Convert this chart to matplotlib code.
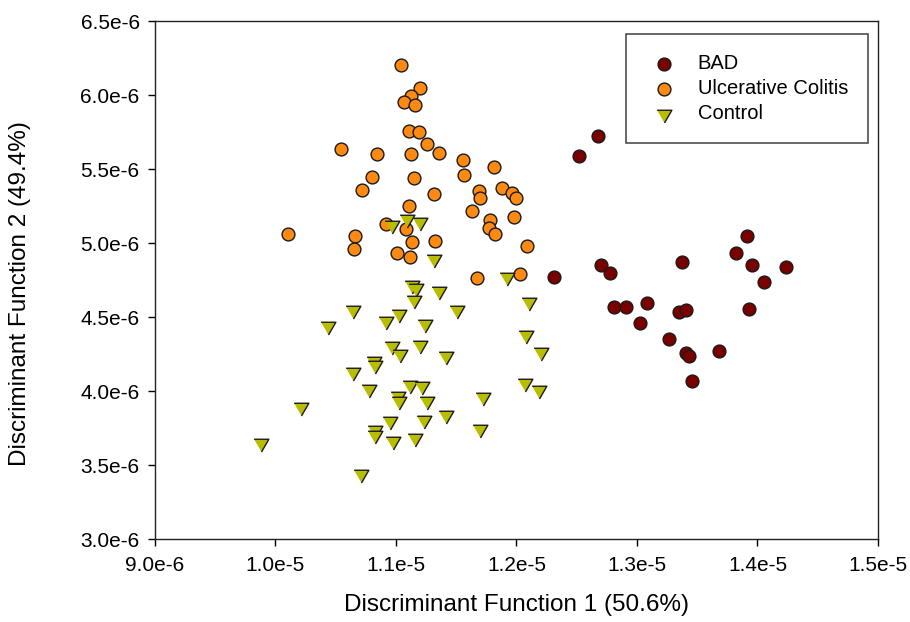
import matplotlib
matplotlib.use("Agg")
import matplotlib.pyplot as plt
from matplotlib.ticker import FixedLocator

plt.rcParams['font.family'] = ['Liberation Sans', 'DejaVu Sans']

# Discriminant scores (units of 1e-6)
bad_x = [12.674, 12.519, 12.311, 12.704, 12.778, 12.812, 12.906, 13.083, 13.027, 13.263,
         13.373, 13.346, 13.407, 13.407, 13.434, 13.456, 13.681, 13.824, 13.910, 13.952,
         14.056, 14.234, 13.932]
bad_y = [5.725, 5.588, 4.768, 4.851, 4.799, 4.566, 4.570, 4.597, 4.461, 4.351,
         4.872, 4.534, 4.545, 4.259, 4.236, 4.068, 4.272, 4.934, 5.047, 4.853,
         4.736, 4.840, 4.556]

uc_x = [11.041, 11.199, 11.122, 11.069, 11.158, 11.110, 11.193, 11.257, 10.544, 10.842,
        11.122, 11.357, 11.559, 11.811, 11.567, 10.801, 11.149, 10.720, 11.315, 11.691,
        11.700, 11.877, 11.963, 11.999, 11.108, 11.631, 11.783, 11.769, 11.824, 11.977,
        10.920, 11.083, 10.101, 10.657, 11.133, 11.326, 10.649, 11.008, 11.116, 12.090,
        11.675, 12.032]
uc_y = [6.201, 6.049, 5.993, 5.953, 5.930, 5.759, 5.750, 5.669, 5.633, 5.603,
        5.599, 5.606, 5.559, 5.514, 5.462, 5.444, 5.439, 5.358, 5.331, 5.349,
        5.302, 5.374, 5.336, 5.302, 5.250, 5.218, 5.155, 5.104, 5.059, 5.176,
        5.126, 5.093, 5.063, 5.047, 5.005, 5.011, 4.957, 4.930, 4.903, 4.978,
        4.761, 4.789]

ctrl_x = [10.964, 11.091, 11.196, 11.318, 11.919, 11.133, 11.166, 11.354, 11.149, 12.101,
          10.646, 11.503, 11.028, 10.917, 11.241, 10.438, 12.076, 10.969, 11.199, 11.033,
          11.415, 12.201, 10.817, 10.826, 10.646, 10.776, 11.114, 11.218, 12.073, 12.184,
          11.019, 11.025, 11.722, 11.260, 10.214, 11.412, 10.947, 11.230, 10.826, 10.826,
          11.700, 11.155, 10.972, 9.877, 10.712]
ctrl_y = [5.124, 5.164, 5.140, 4.894, 4.768, 4.716, 4.698, 4.676, 4.615, 4.599,
          4.547, 4.547, 4.522, 4.475, 4.451, 4.437, 4.380, 4.304, 4.311, 4.252,
          4.239, 4.266, 4.205, 4.176, 4.128, 4.016, 4.038, 4.032, 4.054, 4.007,
          3.966, 3.934, 3.962, 3.932, 3.890, 3.836, 3.799, 3.804, 3.736, 3.700,
          3.745, 3.684, 3.662, 3.651, 3.439]

x_ticks = [9.0e-6, 1.0e-5, 1.1e-5, 1.2e-5, 1.3e-5, 1.4e-5, 1.5e-5]
x_tick_labels = ["9.0e-6", "1.0e-5", "1.1e-5", "1.2e-5", "1.3e-5", "1.4e-5", "1.5e-5"]
y_ticks = [3.0e-6, 3.5e-6, 4.0e-6, 4.5e-6, 5.0e-6, 5.5e-6, 6.0e-6, 6.5e-6]
y_tick_labels = ["3.0e-6", "3.5e-6", "4.0e-6", "4.5e-6", "5.0e-6", "5.5e-6", "6.0e-6", "6.5e-6"]

unit = 1e-6

fig = plt.figure(figsize=(9.1, 6.22), dpi=100)
ax = fig.add_axes([0.1703, 0.1334, 0.7945, 0.8328])

tri = [(-1.0, 0.577), (1.0, 0.577), (0.0, -1.155)]

ax.scatter([v * unit for v in bad_x], [v * unit for v in bad_y], s=85, c='#7a0000',
           edgecolors='#1a1a1a', linewidths=1.0, marker='o', label='BAD', zorder=3)
ax.scatter([v * unit for v in uc_x], [v * unit for v in uc_y], s=85, c='#ff8a12',
           edgecolors='#1a1a1a', linewidths=1.0, marker='o', label='Ulcerative Colitis', zorder=3)
ax.scatter([v * unit for v in ctrl_x], [v * unit for v in ctrl_y], s=150, c='#b8bd00',
           edgecolors='#1a1a1a', linewidths=1.0, marker=tri, label='Control', zorder=3)

ax.set_xlim(9.0e-6, 1.5e-5)
ax.set_ylim(3.0e-6, 6.5e-6)
ax.xaxis.set_major_locator(FixedLocator(x_ticks))
ax.yaxis.set_major_locator(FixedLocator(y_ticks))
ax.set_xticklabels(x_tick_labels)
ax.set_yticklabels(y_tick_labels)
ax.tick_params(axis='both', direction='out', length=5, width=1.0, labelsize=15,
               top=False, right=False)
ax.tick_params(axis='x', pad=7)
ax.tick_params(axis='y', pad=6)
for sp in ax.spines.values():
    sp.set_linewidth(1.0)
    sp.set_color('#222222')

ax.set_xlabel("Discriminant Function 1 (50.6%)", fontsize=17.5, va='center')
ax.set_ylabel("Discriminant Function 2 (49.4%)", fontsize=17.5, va='center')
ax.xaxis.set_label_coords(0.5, -0.128)
ax.yaxis.set_label_coords(-0.187, 0.473)

leg = ax.legend(loc='upper right', bbox_to_anchor=(0.9865, 0.9755), fontsize=14.5,
                frameon=True, fancybox=False, borderpad=1.0, handletextpad=0.75,
                labelspacing=0.3, borderaxespad=0.0, markerscale=1.0, handlelength=1.8)
leg.get_frame().set_edgecolor('#222222')
leg.get_frame().set_linewidth(1.2)

fig.savefig("out.png", dpi=100)
